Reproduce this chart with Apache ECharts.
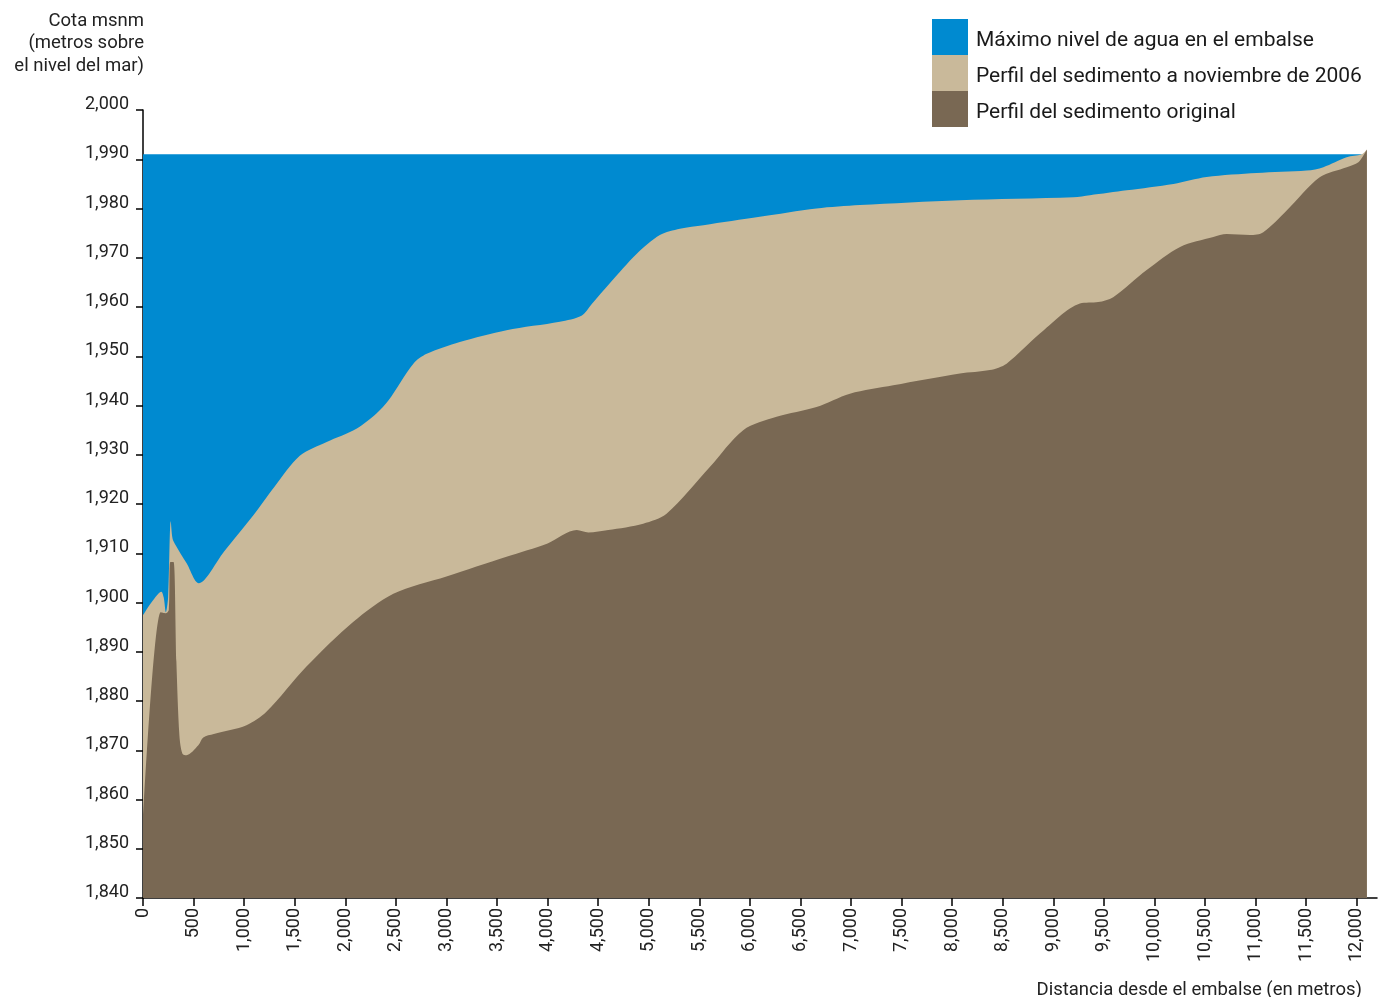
<!DOCTYPE html>
<html>
<head>
<meta charset="utf-8">
<script src="https://cdn.jsdelivr.net/npm/echarts@6/dist/echarts.min.js"></script>
<style>
html,body{margin:0;padding:0;background:#fff;}
#chart{width:1378px;height:997px;}
</style>
</head>
<body>
<div id="chart"></div>
<script>
// ---- data ----
const seriesNames = [
  'Máximo nivel de agua en el embalse',
  'Perfil del sedimento a noviembre de 2006',
  'Perfil del sedimento original'
];
const waterX = [0, 12048];
const waterY = [1991, 1991];

const sed2006X = [0, 90, 182, 205, 226, 248, 274, 292, 313, 430, 551, 800, 1091, 1300, 1550, 1816, 2110, 2308, 2426, 2673, 2805, 3132, 3594, 4121, 4335, 4437, 4615, 4882, 5110, 5308, 5541, 6098, 6659, 7088, 8077, 9200, 9362, 9725, 10188, 10516, 11011, 11505, 11670, 11900, 12048, 12100];
const sed2006Y = [1897.4, 1900.2, 1902.2, 1901, 1898, 1901, 1916.5, 1913, 1912, 1908, 1903.9, 1910.3, 1917.7, 1923.5, 1929.8, 1932.6, 1935.3, 1938.4, 1941, 1948.5, 1950.5, 1952.9, 1955.3, 1957, 1958.2, 1960.6, 1964.8, 1970.8, 1974.6, 1975.9, 1976.6, 1978.3, 1980, 1980.7, 1981.7, 1982.3, 1982.7, 1983.7, 1985, 1986.4, 1987.2, 1987.7, 1988.4, 1990.4, 1991, 1992];

const origX = [0, 175, 224, 255, 270, 302, 330, 360, 390, 430, 547, 596, 700, 1023, 1220, 1616, 2080, 2475, 3000, 3594, 4000, 4289, 4403, 4600, 4945, 5176, 5604, 5934, 6264, 6659, 6989, 7417, 8077, 8373, 8538, 8867, 9263, 9444, 9592, 9923, 10253, 10582, 10714, 10944, 11076, 11307, 11637, 11901, 12016, 12100];
const origY = [1856, 1898, 1897.8, 1898.5, 1908.2, 1908.2, 1888, 1873, 1869.3, 1869, 1871, 1872.6, 1873.3, 1875.1, 1877.8, 1887, 1896.1, 1901.8, 1905.3, 1909.3, 1912, 1914.7, 1914.2, 1914.7, 1916, 1918, 1927.5, 1935, 1937.7, 1939.7, 1942.4, 1944.1, 1946.5, 1947.2, 1948.5, 1954.6, 1960.7, 1961, 1962, 1967.5, 1972.2, 1974.2, 1974.8, 1974.6, 1975.2, 1979.6, 1986.4, 1988.4, 1989.4, 1992];

const xTicks = [0,500,1000,1500,2000,2500,3000,3500,4000,4500,5000,5500,6000,6500,7000,7500,8000,8500,9000,9500,10000,10500,11000,11500,12000];
const yTicks = [1840,1850,1860,1870,1880,1890,1900,1910,1920,1930,1940,1950,1960,1970,1980,1990,2000];

const yTitle = 'Cota msnm\n(metros sobre\nel nivel del mar)';
const xTitle = 'Distancia desde el embalse (en metros)';

const colors = ['#008AD0', '#C9B99A', '#796853'];

function pairs(xs, ys){ return xs.map((x,i)=>[x, ys[i]]); }
function fmt(v){ return v.toString().replace(/\B(?=(\d{3})+(?!\d))/g, ','); }

const FONT = 'Roboto, "Noto Sans", sans-serif';

const chart = echarts.init(document.getElementById('chart'), null, {renderer:'canvas'});
const mkSeries = (name, data, color, smooth) => ({
  name, type:'line', data, smooth, symbol:'none',
  lineStyle:{width:0, color}, itemStyle:{color},
  areaStyle:{color, opacity:1, origin:'start'},
  emphasis:{disabled:true}, silent:true, animation:false
});

chart.setOption({
  animation:false,
  backgroundColor:'#fff',
  textStyle:{fontFamily:FONT},
  grid:{left:143, right:1, top:110, bottom:99, containLabel:false},
  legend:{
    orient:'vertical', left:932, top:19, padding:0, itemWidth:36, itemHeight:36, itemGap:0, itemTextGap:8,
    icon:'rect', selectedMode:false,
    formatter: n => '{t|' + n + '}',
    textStyle:{fontSize:21, color:'#1a1a1a', fontFamily:FONT,
      rich:{t:{fontSize:21, color:'#1a1a1a', fontFamily:FONT, padding:[8,0,0,3]}}},
    data: seriesNames
  },
  xAxis:{
    type:'value', min:0, max:12200,
    axisLine:{show:true, lineStyle:{color:'#000', width:1.5}},
    axisTick:{show:true, length:8, lineStyle:{color:'#000', width:1.5}, customValues:xTicks},
    axisLabel:{rotate:90, margin:10, fontSize:18, color:'#222', customValues:xTicks, formatter:fmt, fontFamily:FONT},
    splitLine:{show:false}
  },
  yAxis:{
    type:'value', min:1840, max:2000, interval:10,
    axisLine:{show:true, lineStyle:{color:'#000', width:1.5}},
    axisTick:{show:true, length:7, lineStyle:{color:'#000', width:1.5}},
    axisLabel:{margin:14, fontSize:18, color:'#222', formatter:fmt, verticalAlign:'bottom', lineHeight:11, fontFamily:FONT},
    splitLine:{show:false}
  },
  graphic:[
    {type:'text', x:144, y:10, style:{text:yTitle, fontSize:18.5, lineHeight:22.5, fill:'#222', align:'right', verticalAlign:'top', fontFamily:FONT}},
    {type:'text', x:1362, y:981, style:{text:xTitle, fontSize:18.5, fill:'#222', align:'right', verticalAlign:'top', fontFamily:FONT}}
  ],
  series:[
    mkSeries(seriesNames[0], pairs(waterX, waterY), colors[0], false),
    mkSeries(seriesNames[1], pairs(sed2006X, sed2006Y), colors[1], 0.3),
    mkSeries(seriesNames[2], pairs(origX, origY), colors[2], 0.3)
  ]
});
</script>
</body>
</html>
